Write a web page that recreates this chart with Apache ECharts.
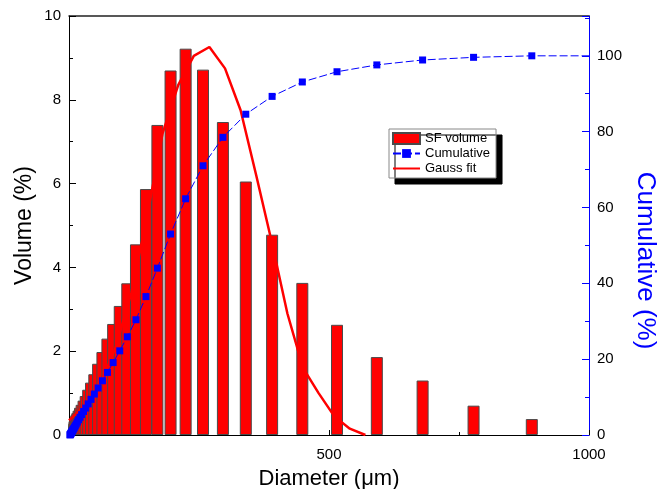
<!DOCTYPE html>
<html lang="en">
<head>
    <meta charset="UTF-8">
    <title>Particle size distribution</title>
    <script src="https://cdn.jsdelivr.net/npm/echarts@6/dist/echarts.min.js"></script>
    <style>
        body { margin: 0; background: #fff; }
        #chart { width: 659px; height: 489px; }
    </style>
</head>
<body>
    <div id="chart"></div>
    <script>
        // bin centres (um) and volume per bin (%)
        const diameters = [2.0, 2.3, 2.6, 3.0, 3.5, 4.0, 4.6, 5.3, 6.1, 7.0, 8.0, 9.2, 10.6, 12.2,
            14.0, 16.0, 18.4, 21.2, 24.3, 28.0, 32.1, 36.9, 42.4, 48.7, 56.0, 64.3, 73.9, 84.9,
            97.6, 112.1, 128.8, 148, 170, 195.3, 224.3, 257.7, 296, 340, 390.6, 448.7, 515.4,
            592, 680, 778, 890];
        const volume = [0.03, 0.05, 0.07, 0.09, 0.11, 0.13, 0.15, 0.17, 0.19, 0.21, 0.24, 0.28, 0.33, 0.39,
            0.47, 0.52, 0.58, 0.65, 0.72, 0.82, 0.93, 1.08, 1.25, 1.45, 1.70, 1.98, 2.30, 2.65,
            3.08, 3.62, 4.55, 5.87, 7.40, 8.70, 9.22, 8.72, 7.47, 6.05, 4.78, 3.63, 2.63,
            1.86, 1.30, 0.70, 0.38];
        const cumulative = [0.03, 0.08, 0.15, 0.24, 0.35, 0.48, 0.63, 0.80, 0.99, 1.20, 1.44, 1.72, 2.05, 2.44,
            2.91, 3.43, 4.01, 4.66, 5.38, 6.20, 7.1, 8.2, 9.4, 10.8, 12.4, 14.3, 16.5, 19.1,
            22.2, 25.9, 30.4, 36.5, 44.0, 53.0, 62.3, 71.0, 78.5, 84.6, 89.3, 93.1, 95.8,
            97.6, 98.9, 99.6, 100.0];
        // next point lies past the axis end, only the line shows
        const tailDiameter = 1030;
        const tailCumulative = 100.0;

        // gauss fit curve
        const fitDiameters = [0, 30, 60, 90, 120, 150, 180, 210, 240, 270, 300, 330, 360, 390, 420, 450, 480, 510, 540, 570];
        const fitValues = [0.35, 0.7, 1.2, 2.1, 3.4, 5.2, 7.2, 8.35, 9.05, 9.26, 8.75, 7.75, 6.2, 4.6, 2.9, 1.6, 1.0, 0.45, 0.15, 0];

        const font = 'Liberation Sans, Arial, sans-serif';
        const blue = '#0000ff';
        const red = '#ff0000';
        // thin bar icon, the extra moveTo points keep the full icon box
        const lineIcon = 'path://M0,0M0,11M0,4.5L27,4.5L27,6.5L0,6.5Z';

        const chart = echarts.init(document.getElementById('chart'));

        const option = {
            animation: false,
            textStyle: { fontFamily: font },
            grid: { left: 69, right: 70, top: 16, bottom: 54, outerBoundsMode: 'none' },
            legend: {
                orient: 'vertical',
                left: 389,
                top: 129,
                backgroundColor: '#fff',
                borderColor: '#888',
                borderWidth: 1,
                padding: [3, 6, 3, 3],
                itemGap: 2,
                itemWidth: 27,
                itemHeight: 11,
                shadowColor: '#000',
                shadowBlur: 0,
                shadowOffsetX: 6,
                shadowOffsetY: 6,
                textStyle: { fontSize: 13, color: '#000', fontFamily: font },
                data: [
                    { name: 'SF volume', icon: 'rect' },
                    { name: 'Cumulative' },
                    { name: 'Gauss fit', icon: lineIcon }
                ]
            },
            xAxis: [
                {
                    type: 'value',
                    min: 0,
                    max: 1000,
                    interval: 500,
                    position: 'bottom',
                    name: 'Diameter (\u03bcm)',
                    nameLocation: 'middle',
                    nameGap: 33,
                    nameMoveOverlap: false,
                    nameTextStyle: { fontSize: 22, color: '#000', fontFamily: font },
                    axisLine: { show: true, onZero: false, lineStyle: { color: '#000', width: 1 } },
                    axisTick: { show: true, inside: true, length: 5, lineStyle: { color: '#000' } },
                    minorTick: { show: true, splitNumber: 2, length: 3, lineStyle: { color: '#000' } },
                    axisLabel: {
                        color: '#000', fontSize: 15, margin: 12,
                        formatter: v => (v === 0 ? '' : String(v))
                    },
                    splitLine: { show: false }
                },
                {
                    type: 'value',
                    min: 0,
                    max: 1000,
                    position: 'top',
                    axisLine: { show: true, onZero: false, lineStyle: { color: '#222', width: 1.5 } },
                    axisTick: { show: false },
                    axisLabel: { show: false },
                    splitLine: { show: false }
                }
            ],
            yAxis: [
                {
                    type: 'value',
                    min: 0,
                    max: 10,
                    interval: 2,
                    position: 'left',
                    name: 'Volume (%)',
                    nameLocation: 'middle',
                    nameRotate: 90,
                    nameGap: 33,
                    nameMoveOverlap: false,
                    nameTextStyle: { fontSize: 23, color: '#000', fontFamily: font },
                    axisLine: { show: true, onZero: false, lineStyle: { color: '#000', width: 1 } },
                    axisTick: { show: true, inside: true, length: 7, lineStyle: { color: '#000' } },
                    minorTick: { show: true, splitNumber: 2, length: 4, lineStyle: { color: '#000' } },
                    axisLabel: { color: '#000', fontSize: 15, margin: 8 },
                    splitLine: { show: false }
                },
                {
                    type: 'value',
                    min: 0,
                    max: 110.5,
                    interval: 20,
                    position: 'right',
                    name: 'Cumulative (%)',
                    nameLocation: 'middle',
                    nameRotate: -90,
                    nameGap: 43,
                    nameMoveOverlap: false,
                    nameTextStyle: {
                        fontSize: 26, color: blue, fontFamily: font,
                        padding: [0, 0, 0, 70]
                    },
                    axisLine: { show: true, onZero: false, lineStyle: { color: blue, width: 1 } },
                    axisTick: { show: true, inside: true, length: 7, lineStyle: { color: blue } },
                    minorTick: { show: true, splitNumber: 2, length: 4, lineStyle: { color: blue } },
                    axisLabel: {
                        color: '#000', fontSize: 15, margin: 8,
                        formatter: v => (v % 20 === 0 && v <= 100 ? String(v) : '')
                    },
                    splitLine: { show: false }
                }
            ],
            series: [
                {
                    name: 'SF volume',
                    type: 'bar',
                    xAxisIndex: 0,
                    yAxisIndex: 0,
                    barWidth: 12,
                    clip: true,
                    itemStyle: { color: red, borderColor: '#4a4a4a', borderWidth: 1 },
                    data: diameters.map((d, i) => [d, volume[i]])
                },
                {
                    name: 'Gauss fit',
                    type: 'line',
                    xAxisIndex: 0,
                    yAxisIndex: 0,
                    symbol: 'none',
                    clip: true,
                    lineStyle: { color: red, width: 2.5 },
                    itemStyle: { color: red },
                    data: fitDiameters.map((d, i) => [d, fitValues[i]])
                },
                {
                    name: 'Cumulative',
                    type: 'line',
                    xAxisIndex: 0,
                    yAxisIndex: 1,
                    symbol: 'rect',
                    symbolSize: 7,
                    clip: true,
                    lineStyle: { color: blue, width: 1, type: [8, 3] },
                    itemStyle: { color: blue },
                    data: diameters.map((d, i) => [d, cumulative[i]]).concat([[tailDiameter, tailCumulative]])
                }
            ]
        };

        chart.setOption(option);
    </script>
</body>
</html>
